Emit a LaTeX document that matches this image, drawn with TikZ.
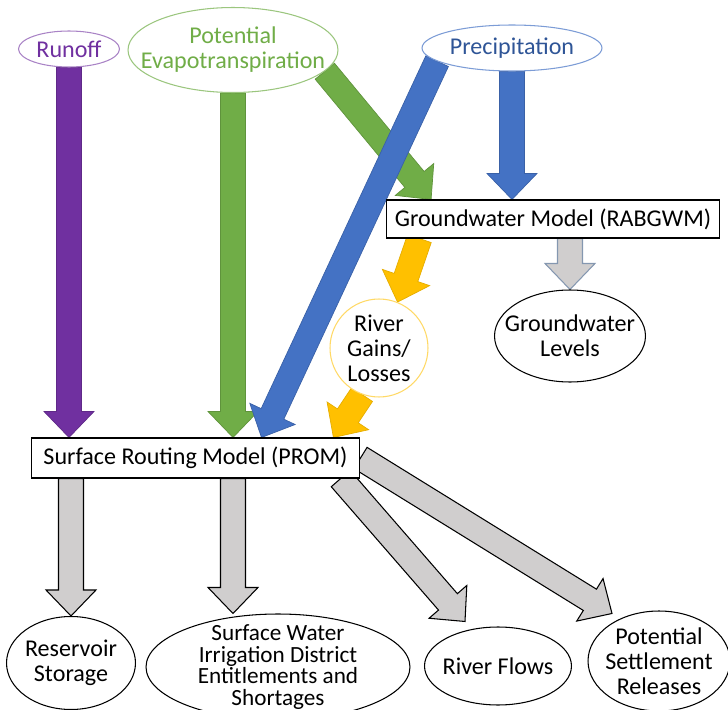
\documentclass[tikz,border=0pt]{standalone}
\usepackage{fontspec}
\setmainfont{Carlito}
\usetikzlibrary{shapes.geometric,calc,backgrounds}
\definecolor{RunoffPurple}{RGB}{112,48,160}
\definecolor{EtGreen}{RGB}{112,173,71}
\definecolor{PrecipBlue}{RGB}{68,114,196}
\definecolor{PrecipText}{RGB}{47,85,151}
\definecolor{GainsGold}{RGB}{255,192,0}
\definecolor{OutGray}{RGB}{208,206,206}
\definecolor{LevelEdge}{RGB}{132,151,176}

% block arrow from #2 to #3 (full coordinate specs)
\newcommand{\flowarrow}[3][]{%
  \coordinate (fa-s) at #2;
  \coordinate (fa-e) at #3;
  \coordinate (fa-h) at ($(fa-e)!0.52cm!(fa-s)$);
  \draw[flow,#1] ($(fa-s)!0.25cm!90:(fa-e)$) -- ($(fa-h)!0.25cm!90:(fa-e)$)
    -- ($(fa-h)!0.5cm!90:(fa-e)$) -- (fa-e) -- ($(fa-h)!0.5cm!-90:(fa-e)$)
    -- ($(fa-h)!0.25cm!-90:(fa-e)$) -- ($(fa-s)!0.25cm!-90:(fa-e)$) -- cycle;}

\begin{document}
\begin{tikzpicture}[x=0.02cm,y=-0.02cm,
      font=\fontsize{13.7}{14.2}\selectfont,
      src/.style={ellipse,draw,fill=white,line width=0.6pt,inner sep=-1cm,align=center},
      result/.style={ellipse,draw,fill=white,line width=0.6pt,inner sep=-1cm,align=center},
      model/.style={draw,fill=white,line width=0.6pt,inner sep=0pt},
      flow/.style={line width=0.4pt,line join=miter},
      purplearrow/.style={fill=RunoffPurple,draw=RunoffPurple!85!black},
      greenarrow/.style={fill=EtGreen,draw=EtGreen!85!black},
      bluearrow/.style={fill=PrecipBlue,draw=PrecipBlue!85!black},
      goldarrow/.style={fill=GainsGold,draw=GainsGold!90!black},
      levelarrow/.style={fill=OutGray,draw=LevelEdge,line width=0.6pt},
      grayarrow/.style={fill=OutGray,draw=black,line width=0.6pt}
    ]
      \useasboundingbox (0,0) rectangle (728,710);

      \node[src,draw=RunoffPurple!60,text=RunoffPurple,minimum width=2.02cm,minimum height=0.72cm]
        (runoff) at (69,49) {Runoff};
      \node[src,draw=EtGreen!70,text=EtGreen,minimum width=4.2cm,minimum height=1.7cm]
        (pet) at (233,50) {Potential\\Evapotranspiration};
      \node[src,draw=PrecipBlue!70,text=PrecipText,minimum width=3.6cm,minimum height=0.92cm]
        (precip) at (512,48) {Precipitation};

      \node[model,minimum width=6.66cm,minimum height=0.76cm] (gwm) at (553,219) {Groundwater Model (RABGWM)};
      \node[result,minimum width=3.02cm,minimum height=1.84cm] (levels) at (570,336) {Groundwater\\Levels};
      \node[circle,draw=GainsGold!60,fill=white,line width=0.6pt,inner sep=-1cm,minimum size=1.96cm,align=center]
        (gains) at (379,348) {River\\Gains/\\Losses};

      \node[model,minimum width=6.58cm,minimum height=0.8cm] (prom) at (195.5,458) {Surface Routing Model (PROM)};

      \node[result,minimum width=2.58cm,minimum height=1.86cm] (storage) at (71,663) {Reservoir\\Storage};
      \node[result,minimum width=5.28cm,minimum height=2.12cm,font=\fontsize{13.2}{12.2}\selectfont]
        (irrig) at (278,667) {Surface Water\\Irrigation District\\Entitlements and\\Shortages};
      \node[result,minimum width=2.94cm,minimum height=1.56cm] (flows) at (498,666) {River Flows};
      \node[result,minimum width=2.84cm,minimum height=2.0cm] (settle) at (659,661) {Potential\\Settlement\\Releases};

      \begin{scope}[on background layer]
        \flowarrow[purplearrow]{(runoff.south)}{(runoff.south |- prom.north)}
        \flowarrow[greenarrow]{(pet.south)}{(pet.south |- prom.north)}
        \flowarrow[greenarrow]{(pet.-13)}{($(gwm.north west)!0.135!(gwm.north east)$)}
        \flowarrow[bluearrow]{(precip.190)}{($(prom.north west)!0.7!(prom.north east)$)}
        \flowarrow[bluearrow]{(precip.south)}{(precip.south |- gwm.north)}
        \flowarrow[goldarrow]{($(gwm.south west)!0.1!(gwm.south east)$)}{(gains.68)}
        \flowarrow[goldarrow]{(gains.250)}{($(prom.north west)!0.918!(prom.north east)$)}
        \flowarrow[levelarrow]{(levels.north |- gwm.south)}{(levels.north)}
        \flowarrow[grayarrow]{(storage.north |- prom.south)}{(storage.north)}
        \flowarrow[grayarrow]{(pet.south |- prom.south)}{(pet.south |- irrig.north)}
        \flowarrow[grayarrow]{($(prom.south west)!0.94!(prom.south east)$)}{($(flows.north)+(-33,-5)$)}
        \flowarrow[grayarrow]{(prom.east)}{($(settle.north)+(-47,3)$)}
      \end{scope}
    \end{tikzpicture}
\end{document}
